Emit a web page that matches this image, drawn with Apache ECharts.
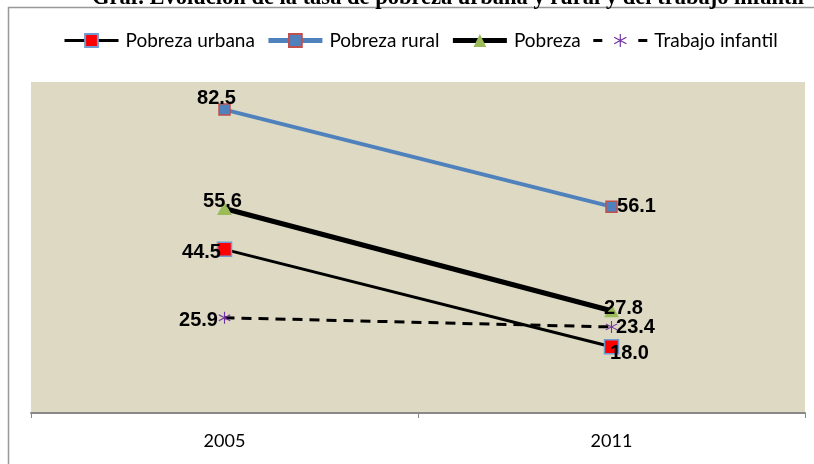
<!DOCTYPE html>
<html><head><meta charset="utf-8">
<script src="https://cdn.jsdelivr.net/npm/echarts@6/dist/echarts.min.js"></script>
<style>html,body{margin:0;padding:0;background:#fff}#c{width:814px;height:464px}</style>
</head><body><div id="c"></div>
<script>
const categories = ['2005', '2011'];
const urbana = [44.5, 18.0];
const rural = [82.5, 56.1];
const pobreza = [55.6, 27.8];
const trabajo = [25.9, 23.4];
const seriesNames = ['Pobreza urbana', 'Pobreza rural', 'Pobreza', 'Trabajo infantil'];
const titleText = 'Graf. Evolución de la tasa de pobreza urbana y rural y del trabajo infantil';

const star = 'path://M-0.8,-10L0.8,-10L0.8,10L-0.8,10Z M7.96,-5.69L8.76,-4.31L-7.96,5.69L-8.76,4.31Z M-8.76,-4.31L-7.96,-5.69L8.76,4.31L7.96,5.69Z';
const lblFont = {fontFamily: 'Liberation Sans, Arial, sans-serif', fontWeight: 'bold', fontSize: 20, color: '#000', position: 'inside'};
const fmt = p => Number(p.value).toFixed(1);
function pts(vals, offs) {
  return vals.map((v, i) => ({value: v, label: {offset: offs[i]}}));
}
const chart = echarts.init(document.getElementById('c'));
chart.setOption({
  animation: false,
  backgroundColor: '#fff',
  title: {text: titleText, left: 87, top: -18, textStyle: {fontFamily: 'Liberation Serif, Times New Roman, serif', fontWeight: 'bold', fontSize: 22.5, color: '#000'}},
  graphic: [{type: 'polyline', shape: {points: [[8.5, 464], [8.5, 7.5], [814, 7.5]]}, style: {stroke: '#999', lineWidth: 1.5, fill: null}}],
  legend: {top: 26, left: 58, itemWidth: 54, itemHeight: 16, itemGap: 11,
    textStyle: {fontFamily: 'Lato, sans-serif', fontSize: 19, color: '#000', padding: [0, 0, 0, 2]},
    data: [
      {name: seriesNames[0], lineStyle: {width: 3}},
      {name: seriesNames[1], lineStyle: {width: 5}},
      {name: seriesNames[2], lineStyle: {width: 5}},
      {name: seriesNames[3], lineStyle: {width: 3, type: [9, 36]}}
    ]},
  grid: {left: 31, right: 9, top: 82, bottom: 51, show: true, backgroundColor: '#ddd9c3', borderWidth: 0},
  xAxis: {type: 'category', data: categories, boundaryGap: true,
    axisLine: {lineStyle: {color: '#888', width: 2}},
    axisTick: {show: true, length: 5, lineStyle: {color: '#888', width: 1}},
    axisLabel: {fontFamily: 'Lato, sans-serif', fontSize: 18, color: '#000', margin: 19}},
  yAxis: {type: 'value', min: 0, max: 90, show: false, splitLine: {show: false}},
  series: [
    {name: seriesNames[0], type: 'line', data: pts(urbana, [[-23, 3], [18, 7]]), symbol: 'rect', symbolSize: 14,
     itemStyle: {color: '#ff0000', borderColor: '#6f9bd1', borderWidth: 1.5}, lineStyle: {color: '#000', width: 3},
     label: {show: true, formatter: fmt, ...lblFont}, emphasis: {disabled: true}},
    {name: seriesNames[1], type: 'line', data: pts(rural, [[-8, -11], [25, 0]]), symbol: 'rect', symbolSize: 11,
     itemStyle: {color: '#4f81bd', borderColor: '#c0504d', borderWidth: 1.5}, lineStyle: {color: '#4f81bd', width: 4},
     label: {show: true, formatter: fmt, ...lblFont}, emphasis: {disabled: true}},
    {name: seriesNames[2], type: 'line', data: pts(pobreza, [[-2, -7], [12, -2]]), symbol: 'triangle', symbolSize: [15, 13],
     itemStyle: {color: '#9bbb59', borderWidth: 0}, lineStyle: {color: '#000', width: 5},
     label: {show: true, formatter: fmt, ...lblFont}, emphasis: {disabled: true}},
    {name: seriesNames[3], type: 'line', data: pts(trabajo, [[-26, 3], [24, 1]]), symbol: star, symbolSize: 12,
     itemStyle: {color: '#7030a0', borderWidth: 0}, lineStyle: {color: '#000', width: 3, type: [10, 7]},
     label: {show: true, formatter: fmt, ...lblFont}, emphasis: {disabled: true}}
  ]
});
</script></body></html>
